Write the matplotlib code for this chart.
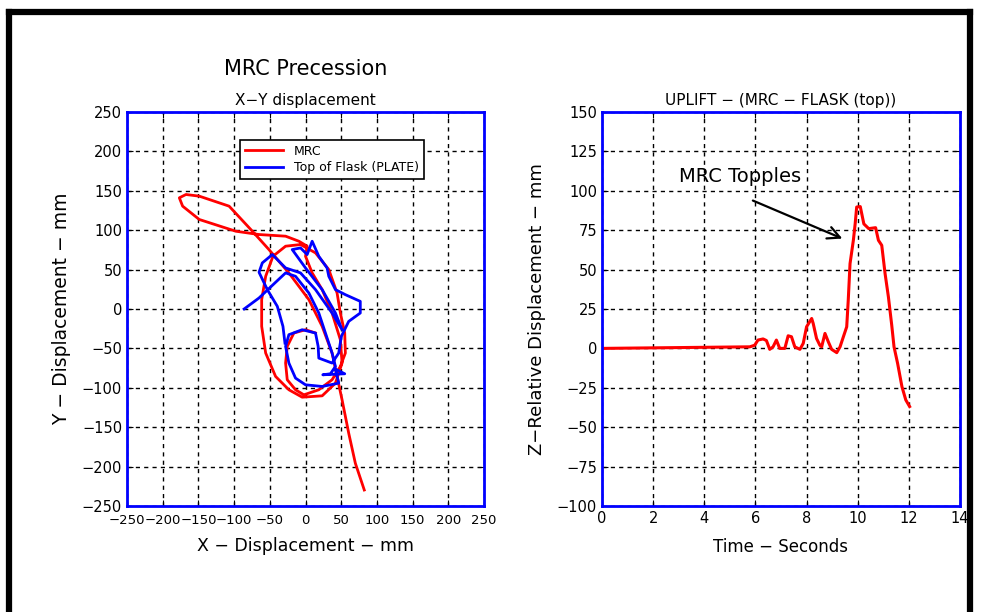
import matplotlib
matplotlib.use("Agg")
import matplotlib.pyplot as plt
from matplotlib.lines import Line2D

plt.rcParams['font.family'] = ['DejaVu Sans']

# X-Y path of the MRC (mm)
mrc_x = [14.0, 0.0, -16.3, -25.6, -27.9, -25.6, -14.0, -2.3, 18.6, 37.2, 48.8, 55.8,
         54.9, 48.8, 44.2, 32.6, 14.0, -7.0, -27.9, -45.6, -55.8, -61.4, -61.4, -55.8,
         -41.9, -23.3, -4.7, 23.3, 41.9, 51.2, 48.8, 37.2, 23.3, 9.3, 0.0, 2.3, -9.3,
         -27.9, -65.1, -97.7, -148.8, -172.1, -176.7, -167.4, -148.8, -107.0, -74.4,
         -51.2, -23.3, 4.7, 23.3, 37.2, 44.2, 51.2, 60.5, 69.8, 82.3]
mrc_y = [-30.5, -26.3, -30.5, -47.5, -68.6, -89.8, -102.5, -108.9, -102.5, -89.8, -72.9,
         -55.9, -30.5, -5.1, 20.3, 50.0, 71.2, 81.8, 79.7, 66.9, 41.5, 11.9, -22.0, -55.9,
         -85.6, -102.5, -111.9, -110.2, -94.1, -68.6, -39.0, -5.1, 24.6, 45.8, 66.9, 79.7,
         86.0, 92.4, 94.5, 98.7, 113.6, 130.5, 141.1, 145.3, 143.2, 130.5, 98.7, 75.4,
         45.8, 11.9, -22.0, -55.9, -85.6, -115.3, -157.6, -195.8, -229.7]

# X-Y path of the top of the flask (mm)
plate_x = [-86.0, -65.1, -41.9, -27.9, -14.0, 4.7, 18.6, 27.9, 37.2, 41.9, 34.9, 24.2,
           54.9, 41.9, 46.5, 23.3, 0.0, -14.0, -23.3, -27.9, -23.3, -4.7, 14.0, 17.7, 18.6,
           37.2, 46.5, 50.2, 60.5, 76.7, 76.7, 55.8, 41.9, 32.6, 30.2, 18.6, 9.3, 2.3, -7.0,
           -18.6, 0.0, 23.3, 41.9, 51.2, 37.2, 14.0, -7.0, -27.9, -46.5, -60.5, -65.1,
           -53.5, -39.5, -31.6, -28.8]
plate_y = [0.0, 14.0, 33.9, 45.8, 41.5, 20.3, -5.1, -30.5, -55.9, -72.9, -82.2, -83.5,
           -82.2, -76.3, -94.1, -98.3, -96.2, -87.7, -68.6, -47.5, -32.6, -26.3, -30.5,
           -47.5, -62.3, -68.6, -55.9, -34.7, -15.7, -5.1, 9.7, 18.2, 24.6, 41.5, 52.1,
           66.9, 86.0, 69.1, 77.5, 75.4, 52.1, 24.6, -5.1, -26.3, -5.1, 24.6, 45.8, 52.1,
           69.1, 58.5, 46.6, 24.6, 3.4, -22.0, -43.2]

# uplift vs time
time_s = [0.0, 5.78, 5.97, 6.1, 6.3, 6.43, 6.56, 6.69, 6.82, 6.95, 7.15, 7.28, 7.41,
          7.54, 7.74, 7.87, 8.0, 8.2, 8.26, 8.39, 8.52, 8.59, 8.72, 8.85, 8.98, 9.18,
          9.31, 9.44, 9.57, 9.63, 9.7, 9.83, 9.9, 9.96, 10.1, 10.24, 10.43, 10.7, 10.81,
          10.94, 11.07, 11.2, 11.33, 11.42, 11.56, 11.73, 11.88, 12.03]
uplift = [0.0, 1.0, 2.0, 5.3, 6.0, 5.0, -0.6, 1.0, 5.3, 0.0, 0.0, 8.0, 7.4, 1.0, -0.6,
          3.2, 13.7, 19.0, 15.8, 6.3, 2.0, 1.0, 9.5, 4.2, -0.6, -2.7, 1.0, 7.4, 13.7,
          30.6, 53.8, 68.6, 79.0, 89.7, 90.0, 79.0, 76.0, 76.6, 68.6, 65.4, 47.5, 32.7,
          14.8, 1.0, -9.5, -24.3, -32.7, -36.9]

xy_ticks = [-250, -200, -150, -100, -50, 0, 50, 100, 150, 200, 250]
t_ticks = [0, 2, 4, 6, 8, 10, 12, 14]
z_ticks = [-100, -75, -50, -25, 0, 25, 50, 75, 100, 125, 150]

fig = plt.figure(figsize=(9.83, 6.12), dpi=100)
ax1 = fig.add_axes([0.1292, 0.1732, 0.3632, 0.6438])
ax2 = fig.add_axes([0.6124, 0.1732, 0.3642, 0.6438])


def style(ax):
    for sp in ax.spines.values():
        sp.set_color('blue')
        sp.set_linewidth(2)
    ax.grid(True, color='black', linestyle=(0, (3, 3)), linewidth=1)
    ax.tick_params(direction='in', length=4, color='black', labelsize=10.5,
                   top=True, right=True)
    ax.set_axisbelow(True)


ax1.plot(mrc_x, mrc_y, color='red', lw=2, label='MRC')
ax1.plot(plate_x, plate_y, color='blue', lw=2, label='Top of Flask (PLATE)')
ax1.set_xlim(-250, 250)
ax1.set_ylim(-250, 250)
ax1.set_xticks(xy_ticks)
ax1.set_yticks(xy_ticks)
style(ax1)
ax1.tick_params(axis='x', labelsize=9.5, pad=6)
ax1.set_xlabel('X \u2212 Displacement \u2212 mm', fontsize=12.5, labelpad=7)
ax1.set_ylabel('Y \u2212 Displacement \u2212 mm', fontsize=13.5, labelpad=8)
ax1.set_title('X\u2212Y displacement', fontsize=11, pad=5)
ax1.text(0.5, 1.108, 'MRC Precession', transform=ax1.transAxes, ha='center',
         va='center', fontsize=15)
leg = ax1.legend(loc='upper left', bbox_to_anchor=(0.317, 0.93), borderaxespad=0,
                 fontsize=9, fancybox=False, framealpha=1, edgecolor='black',
                 handlelength=3, handletextpad=0.9, borderpad=0.4, labelspacing=0.3)
leg.get_frame().set_linewidth(1.2)

ax2.plot(time_s, uplift, color='red', lw=2.2)
ax2.set_xlim(0, 14)
ax2.set_ylim(-100, 150)
ax2.set_xticks(t_ticks)
ax2.set_yticks(z_ticks)
style(ax2)
ax2.set_xlabel('Time \u2212 Seconds', fontsize=12, labelpad=9)
ax2.set_ylabel('Z\u2212Relative Displacement \u2212 mm', fontsize=13, labelpad=8)
ax2.set_title('UPLIFT \u2212 (MRC \u2212 FLASK (top))', fontsize=11, pad=5)
ax2.annotate('', xy=(9.5, 69), xytext=(5.8, 94.5),
             arrowprops=dict(arrowstyle='->', color='black', lw=1.6,
                             mutation_scale=22))
ax2.text(5.4, 109, 'MRC Topples', ha='center', va='center', fontsize=14,
         fontweight='medium')

# black frame around the page
lw = 4.5
fig.add_artist(Line2D([0.009, 0.009], [0.0, 0.981], color='black', lw=lw,
                      solid_capstyle='projecting'))
fig.add_artist(Line2D([0.009, 0.987], [0.981, 0.981], color='black', lw=lw,
                      solid_capstyle='projecting'))
fig.add_artist(Line2D([0.987, 0.987], [0.0, 0.981], color='black', lw=lw,
                      solid_capstyle='projecting'))

fig.savefig('out.png', dpi=100)
